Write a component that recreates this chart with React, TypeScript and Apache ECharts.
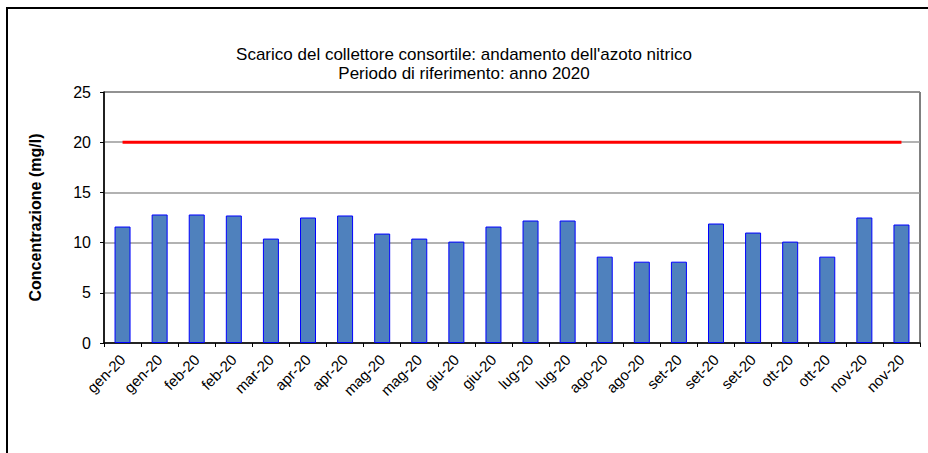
import React, { useEffect, useRef } from "react";
import * as echarts from "echarts";

const categories = [
  "gen-20", "gen-20", "feb-20", "feb-20", "mar-20", "apr-20", "apr-20", "mag-20",
  "mag-20", "giu-20", "giu-20", "lug-20", "lug-20", "ago-20", "ago-20", "set-20",
  "set-20", "set-20", "ott-20", "ott-20", "nov-20", "nov-20",
];
const concentrazione = [
  11.6, 12.8, 12.8, 12.7, 10.4, 12.5, 12.7, 10.9, 10.4, 10.1, 11.6,
  12.2, 12.2, 8.6, 8.1, 8.1, 11.9, 11.0, 10.1, 8.6, 12.5, 11.8,
];
const limite = categories.map(() => 20);
const titleText = "Scarico del collettore consortile: andamento dell'azoto nitrico\nPeriodo di riferimento: anno 2020";
const yAxisName = "Concentrazione (mg/l)";

export default function App() {
  const ref = useRef<HTMLDivElement>(null);
  useEffect(() => {
    if (!ref.current) return;
    const chart = echarts.init(ref.current, null, { renderer: "svg" });
    const font = "'Liberation Sans', Arial, sans-serif";
    chart.setOption({
      animation: false,
      backgroundColor: "#ffffff",
      textStyle: { fontFamily: font },
      title: {
        text: titleText,
        left: "center",
        top: 40,
        textStyle: { fontSize: 17, fontWeight: "normal", color: "#000", lineHeight: 19, fontFamily: font },
      },
      graphic: [
        {
          type: "rect",
          shape: { x: 7, y: 8, width: 940, height: 470 },
          style: { fill: "none", stroke: "#000", lineWidth: 2 },
          silent: true,
        },
      ],
      grid: {
        left: 104,
        top: 92,
        right: 8,
        bottom: 110,
        show: true,
        borderColor: "#000",
        borderWidth: 1,
        backgroundColor: "transparent",
      },
      xAxis: {
        type: "category",
        data: categories,
        boundaryGap: true,
        axisLine: { lineStyle: { color: "#000", width: 1.5 } },
        axisTick: { show: true, length: 4, lineStyle: { color: "#000" }, interval: 0 },
        axisLabel: { rotate: 45, interval: 0, fontSize: 15, color: "#000", margin: 14, fontFamily: font },
        splitLine: { show: false },
      },
      yAxis: {
        type: "value",
        min: 0,
        max: 25,
        interval: 5,
        name: yAxisName,
        nameLocation: "middle",
        nameGap: 61,
        nameTextStyle: { fontSize: 16, fontWeight: "bold", color: "#000", fontFamily: font },
        axisLine: { show: true, lineStyle: { color: "#000", width: 1.5 } },
        axisTick: { show: true, length: 4, lineStyle: { color: "#000" } },
        axisLabel: { fontSize: 16, color: "#000", margin: 13, fontFamily: font },
        splitLine: { show: true, lineStyle: { color: "#999", width: 1.5 } },
      },
      series: [
        {
          type: "bar",
          data: concentrazione,
          barWidth: 16,
          itemStyle: { color: "#4F81BD", borderColor: "#0000FF", borderWidth: 1 },
        },
        {
          type: "line",
          data: limite,
          symbol: "none",
          lineStyle: { color: "#FF0000", width: 3 },
          z: 5,
        },
      ],
    });
    return () => chart.dispose();
  }, []);
  return (
    <div
      ref={ref}
      style={{ position: "absolute", left: 0, top: 0, width: 928, height: 453 }}
    />
  );
}
